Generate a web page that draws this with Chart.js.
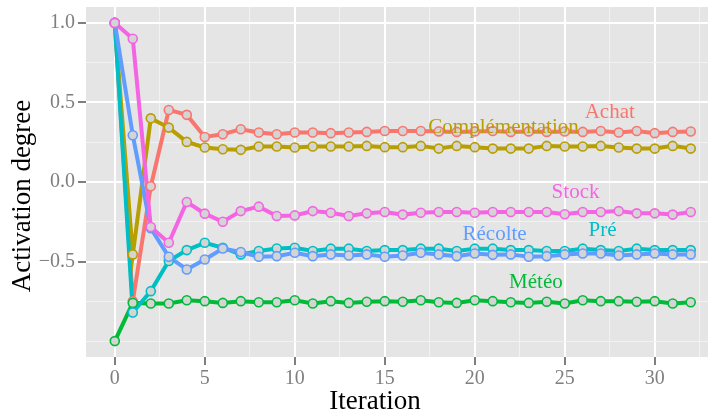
<!DOCTYPE html>
<html>
<head>
<title>Activation degree per iteration</title>
<script src="https://cdn.jsdelivr.net/npm/chart.js"></script>
<style>
  html, body { margin: 0; padding: 0; background: #ffffff; }
</style>
</head>
<body>
<canvas id="activationChart" width="708" height="417"></canvas>
<script>
// Data
const iterations = [0, 1, 2, 3, 4, 5, 6, 7, 8, 9, 10, 11, 12, 13, 14, 15, 16,
                    17, 18, 19, 20, 21, 22, 23, 24, 25, 26, 27, 28, 29, 30, 31, 32];

const seriesNames = ['Achat', 'Complémentation', 'Météo', 'Pré', 'Récolte', 'Stock'];
const seriesColors = ['#F8766D', '#B79F00', '#00BA38', '#00BFC4', '#619CFF', '#F564E3'];

const achat = [1.0, -0.75, -0.027, 0.453, 0.422, 0.283, 0.300, 0.332, 0.311, 0.300,
               0.311, 0.311, 0.307, 0.311, 0.315, 0.321, 0.321, 0.321, 0.318, 0.315,
               0.318, 0.321, 0.315, 0.318, 0.315, 0.317, 0.315, 0.321, 0.311, 0.321,
               0.307, 0.315, 0.317];
const complementation = [1.0, -0.455, 0.40, 0.342, 0.252, 0.217, 0.206, 0.202, 0.223, 0.223,
               0.217, 0.223, 0.223, 0.223, 0.227, 0.219, 0.219, 0.227, 0.210, 0.227,
               0.219, 0.210, 0.210, 0.210, 0.227, 0.223, 0.223, 0.227, 0.217, 0.210,
               0.210, 0.227, 0.210];
const meteo = [-1.0, -0.76, -0.764, -0.764, -0.743, -0.749, -0.76, -0.749, -0.756, -0.756,
               -0.743, -0.764, -0.749, -0.76, -0.753, -0.749, -0.753, -0.743, -0.756, -0.76,
               -0.743, -0.749, -0.756, -0.76, -0.753, -0.764, -0.743, -0.749, -0.749, -0.753,
               -0.749, -0.764, -0.756];
const pre = [1.0, -0.82, -0.686, -0.497, -0.428, -0.382, -0.413, -0.455, -0.434, -0.418,
               -0.413, -0.434, -0.419, -0.419, -0.434, -0.428, -0.428, -0.419, -0.419, -0.434,
               -0.419, -0.419, -0.428, -0.428, -0.434, -0.434, -0.419, -0.428, -0.434, -0.419,
               -0.428, -0.428, -0.428];
const recolte = [1.0, 0.294, -0.29, -0.47, -0.55, -0.487, -0.418, -0.44, -0.47, -0.466,
               -0.445, -0.466, -0.455, -0.462, -0.455, -0.47, -0.462, -0.445, -0.455, -0.466,
               -0.449, -0.458, -0.455, -0.47, -0.466, -0.455, -0.449, -0.449, -0.462, -0.455,
               -0.449, -0.455, -0.455];
const stock = [1.0, 0.90, -0.283, -0.382, -0.126, -0.199, -0.25, -0.183, -0.155, -0.214,
               -0.21, -0.183, -0.193, -0.214, -0.197, -0.189, -0.205, -0.193, -0.189, -0.189,
               -0.193, -0.189, -0.189, -0.189, -0.189, -0.203, -0.189, -0.189, -0.183, -0.197,
               -0.197, -0.205, -0.189];

const seriesValues = [achat, complementation, meteo, pre, recolte, stock];

// where each series name is written, in data units (iteration, activation)
const labelX = [27.5, 21.6, 23.4, 27.1, 21.1, 25.6];
const labelY = [0.44, 0.345, -0.632, -0.305, -0.33, -0.065];

// axis ticks
const yGrid = [-1, -0.75, -0.5, -0.25, 0, 0.25, 0.5, 0.75, 1];
const yLabelled = [-0.5, 0, 0.5, 1];
const xGrid = [0, 2.5, 5, 7.5, 10, 12.5, 15, 17.5, 20, 22.5, 25, 27.5, 30, 32.5];
const xLabelled = [0, 5, 10, 15, 20, 25, 30];

const serif = '"Liberation Serif", "Times New Roman", serif';

const panelPlugin = {
  id: 'panel',
  beforeDraw(chart) {
    const {ctx, chartArea: a} = chart;
    ctx.save();
    ctx.fillStyle = '#e5e5e5';
    ctx.fillRect(a.left, a.top, a.right - a.left, a.bottom - a.top);
    ctx.restore();
  },
  afterDatasetsDraw(chart) {
    const {ctx} = chart;
    const xs = chart.scales.x, ys = chart.scales.y;
    ctx.save();
    ctx.font = '21px ' + serif;
    ctx.textAlign = 'center';
    ctx.textBaseline = 'middle';
    seriesNames.forEach((name, i) => {
      ctx.fillStyle = seriesColors[i];
      ctx.fillText(name, xs.getPixelForValue(labelX[i]), ys.getPixelForValue(labelY[i]));
    });
    ctx.restore();
  },
  afterDraw(chart) {
    // axis titles, placed like the original
    const {ctx} = chart;
    ctx.save();
    ctx.fillStyle = '#000000';
    ctx.font = '27px ' + serif;
    ctx.textAlign = 'center';
    ctx.textBaseline = 'middle';
    ctx.fillText('Iteration', 375, 402);
    ctx.translate(23, 196);
    ctx.rotate(-Math.PI / 2);
    ctx.fillText('Activation degree', 0, 0);
    ctx.restore();
  }
};

// no extra room for tick labels hanging past the panel
function fixBox(size, horizontal) {
  return s => {
    if (horizontal) s.height = size; else s.width = size;
    s.paddingLeft = 0; s.paddingRight = 0; s.paddingTop = 0; s.paddingBottom = 0;
  };
}

// lines first, then all points on top (like geom_line + geom_point)
const datasets = [];
seriesValues.forEach((vals, i) => {
  datasets.push({
    label: seriesNames[i],
    data: iterations.map((it, k) => ({x: it, y: vals[k]})),
    borderColor: seriesColors[i],
    borderWidth: 4,
    pointRadius: 0,
    tension: 0,
    order: 20 - i
  });
});
seriesValues.forEach((vals, i) => {
  datasets.push({
    label: seriesNames[i] + ' points',
    data: iterations.map((it, k) => ({x: it, y: vals[k]})),
    showLine: false,
    pointRadius: 4.5,
    pointBorderWidth: 1.6,
    pointBackgroundColor: '#d4d4d4',
    pointBorderColor: seriesColors[i],
    order: 10 - i
  });
});

const ctx = document.getElementById('activationChart').getContext('2d');
const chart = new Chart(ctx, {
  type: 'line',
  data: { datasets: datasets },
  options: {
    responsive: false,
    devicePixelRatio: 1,
    animation: false,
    layout: { autoPadding: false, padding: { top: 7, left: 0, right: 0, bottom: 0 } },
    plugins: {
      legend: { display: false },
      tooltip: { enabled: false }
    },
    scales: {
      x: {
        type: 'linear',
        min: -1.6,
        max: 32.96,
        afterFit: fixBox(60, true),
        afterBuildTicks: s => { s.ticks = xGrid.map(v => ({value: v})); },
        border: { display: false },
        grid: {
          color: c => (c.tick && xLabelled.includes(c.tick.value)) ? '#ffffff' : '#f2f2f2',
          lineWidth: c => (c.tick && xLabelled.includes(c.tick.value)) ? 2 : 1,
          tickColor: c => (c.tick && xLabelled.includes(c.tick.value)) ? '#7f7f7f' : 'rgba(0,0,0,0)',
          tickLength: 8,
          tickWidth: 2
        },
        ticks: {
          autoSkip: false,
          maxRotation: 0,
          padding: 2,
          color: '#7f7f7f',
          font: { family: serif, size: 20 },
          callback: v => xLabelled.includes(v) ? String(v) : ''
        }
      },
      y: {
        type: 'linear',
        min: -1.1,
        max: 1.1,
        afterFit: fixBox(86, false),
        afterBuildTicks: s => { s.ticks = yGrid.map(v => ({value: v})); },
        border: { display: false },
        grid: {
          color: c => (c.tick && yLabelled.includes(c.tick.value)) ? '#ffffff' : '#f2f2f2',
          lineWidth: c => (c.tick && yLabelled.includes(c.tick.value)) ? 2 : 1,
          tickColor: c => (c.tick && yLabelled.includes(c.tick.value)) ? '#7f7f7f' : 'rgba(0,0,0,0)',
          tickLength: 8,
          tickWidth: 2
        },
        ticks: {
          autoSkip: false,
          padding: 3,
          color: '#7f7f7f',
          font: { family: serif, size: 20 },
          callback: v => yLabelled.includes(v) ? (v < 0 ? '\u2212' : '') + Math.abs(v).toFixed(1) : ''
        }
      }
    }
  },
  plugins: [panelPlugin]
});
</script>
</body>
</html>
